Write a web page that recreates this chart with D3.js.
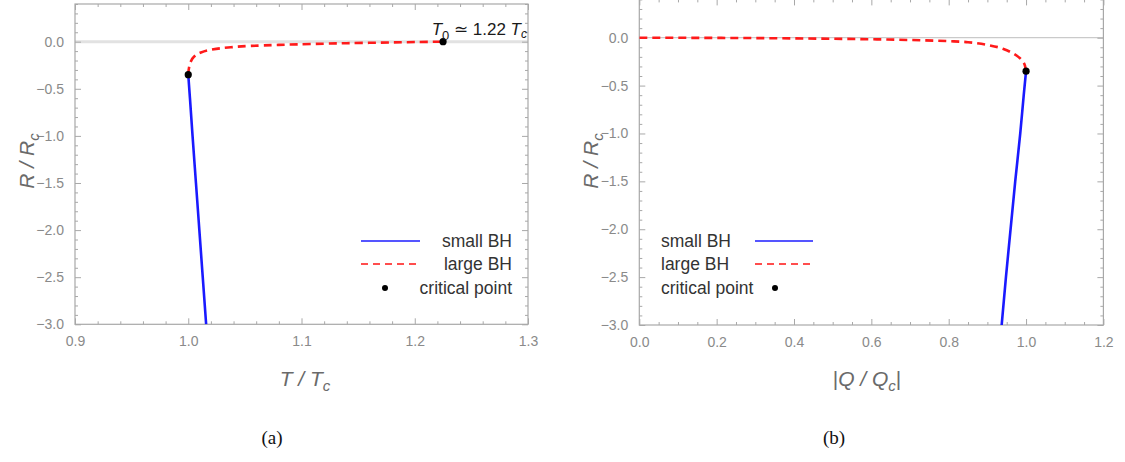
<!DOCTYPE html>
<html><head><meta charset="utf-8">
<script src="https://cdn.jsdelivr.net/npm/d3@7"></script>
<style>
body{margin:0;background:#fff;}
svg{display:block;}
text{font-family:"Liberation Sans",Arial,sans-serif;}
</style></head>
<body><svg id="c" width="1125" height="462"></svg>
<script>
// ---- Data ----
// Panel (a): R/Rc vs T/Tc
const smallT = [1.0, 1.0015, 1.0038, 1.0068, 1.0098, 1.0128, 1.0158];
const smallR_a = [-0.35, -0.6, -1.0, -1.5, -2.0, -2.5, -3.0];
const largeT = [1.0, 1.0005, 1.002, 1.005, 1.01, 1.02, 1.035, 1.055, 1.08, 1.11, 1.14, 1.17, 1.2, 1.225];
const largeR_a = [-0.35, -0.29, -0.22, -0.16, -0.12, -0.085, -0.062, -0.045, -0.034, -0.024, -0.016, -0.01, -0.004, 0.0];
const critA = [[1.0, -0.35], [1.225, 0.0]];
// Panel (b): R/Rc vs |Q/Qc|
const smallQ = [1.0, 0.994, 0.985, 0.972, 0.960, 0.948, 0.937];
const smallR_b = [-0.35, -0.6, -1.0, -1.5, -2.0, -2.5, -3.0];
const largeQ = [0, 0.1, 0.2, 0.3, 0.4, 0.5, 0.6, 0.7, 0.8, 0.85, 0.9, 0.94, 0.96, 0.98, 0.99, 0.997, 1.0];
const largeR_b = [0, -0.001, -0.002, -0.004, -0.007, -0.011, -0.016, -0.024, -0.036, -0.047, -0.075, -0.115, -0.15, -0.2, -0.24, -0.29, -0.35];
const critB = [[1.0, -0.35]];
// Ticks
const yMajor = [0.0, -0.5, -1.0, -1.5, -2.0, -2.5, -3.0];
const xMajorA = [0.9, 1.0, 1.1, 1.2, 1.3];
const xMajorB = [0.0, 0.2, 0.4, 0.6, 0.8, 1.0, 1.2];
const legendLabels = ["small BH", "large BH", "critical point"];

const svg = d3.select("#c");
const fmt = d3.format(".1f");
const frameCol = "#a8a8a8", tickTxt = "#8a8a8a";

function panel(o) {
  const x = d3.scaleLinear().domain(o.xd).range([o.x0, o.x1]);
  const y = d3.scaleLinear().domain([-3, 0.4]).range([o.y1, o.y0]);
  const g = svg.append("g");
  g.append("line").attr("x1", o.x0).attr("x2", o.x1).attr("y1", y(0)).attr("y2", y(0))
    .attr("stroke", o.zeroCol).attr("stroke-width", o.zeroW);
  const yMinor = d3.range(-30, 5).map(d => d / 10).filter(v => !yMajor.some(m => Math.abs(m - v) < 1e-9));
  const xMinor = d3.range(Math.round(o.xd[0] / o.xm), Math.round(o.xd[1] / o.xm) + 1).map(d => +(d * o.xm).toFixed(4))
    .filter(v => !o.xMajor.some(m => Math.abs(m - v) < 1e-9));
  function style(sel) {
    sel.select(".domain").remove();
    sel.selectAll("line").attr("stroke", frameCol);
    sel.selectAll("text").attr("fill", tickTxt).style("font-size", "14px").style("font-family", "'Liberation Sans',Arial,sans-serif");
  }
  g.append("g").attr("transform", `translate(${o.x0},0)`).call(d3.axisLeft(y).tickValues(yMajor).tickSize(-6).tickPadding(11).tickFormat(fmt)).call(style);
  g.append("g").attr("transform", `translate(${o.x0},0)`).call(d3.axisLeft(y).tickValues(yMinor).tickSize(-3).tickFormat("")).call(style);
  g.append("g").attr("transform", `translate(${o.x1},0)`).call(d3.axisRight(y).tickValues(yMajor).tickSize(-6).tickFormat("")).call(style);
  g.append("g").attr("transform", `translate(${o.x1},0)`).call(d3.axisRight(y).tickValues(yMinor).tickSize(-3).tickFormat("")).call(style);
  g.append("g").attr("transform", `translate(0,${o.y1})`).call(d3.axisBottom(x).tickValues(o.xMajor).tickSize(-6).tickPadding(12).tickFormat(fmt)).call(style);
  g.append("g").attr("transform", `translate(0,${o.y1})`).call(d3.axisBottom(x).tickValues(xMinor).tickSize(-3).tickFormat("")).call(style);
  g.append("g").attr("transform", `translate(0,${o.y0})`).call(d3.axisTop(x).tickValues(o.xMajor).tickSize(-6).tickFormat("")).call(style);
  g.append("g").attr("transform", `translate(0,${o.y0})`).call(d3.axisTop(x).tickValues(xMinor).tickSize(-3).tickFormat("")).call(style);
  g.append("rect").attr("x", o.x0).attr("y", o.y0).attr("width", o.x1 - o.x0).attr("height", o.y1 - o.y0)
    .attr("fill", "none").attr("stroke", frameCol).attr("stroke-width", 1.2);
  const clip = "clip" + o.id;
  svg.append("clipPath").attr("id", clip).append("rect").attr("x", o.x0).attr("y", o.y0).attr("width", o.x1 - o.x0).attr("height", o.y1 - o.y0);
  const line = d3.line().x(d => x(d[0])).y(d => y(d[1])).curve(d3.curveMonotoneY);
  const lineX = d3.line().x(d => x(d[0])).y(d => y(d[1])).curve(d3.curveMonotoneX);
  const pc = g.append("g").attr("clip-path", `url(#${clip})`);
  pc.append("path").datum(o.small).attr("d", line).attr("fill", "none").attr("stroke", "#1a1aff").attr("stroke-width", 2.6);
  pc.append("path").datum(o.large).attr("d", o.largeCurve === "Y" ? line : lineX).attr("fill", "none").attr("stroke", "#ff1a1a")
    .attr("stroke-width", 2.6).attr("stroke-dasharray", "8,5");
  pc.selectAll("circle.cp").data(o.crit).join("circle").attr("cx", d => x(d[0])).attr("cy", d => y(d[1])).attr("r", 3.6).attr("fill", "#000");
  return { x, y, g };
}

const A = panel({
  id: "a", x0: 75, x1: 528, y0: 4, y1: 324.3, xd: [0.9, 1.3], xm: 0.02, xMajor: xMajorA,
  zeroCol: "#e2e2e2", zeroW: 3,
  small: smallT.map((t, i) => [t, smallR_a[i]]),
  large: largeT.map((t, i) => [t, largeR_a[i]]), largeCurve: "Y",
  crit: critA
});
const B = panel({
  id: "b", x0: 639.3, x1: 1103.4, y0: -0.6, y1: 325, xd: [0, 1.2], xm: 0.05, xMajor: xMajorB,
  zeroCol: "#bdbdbd", zeroW: 1,
  small: smallQ.map((q, i) => [q, smallR_b[i]]),
  large: largeQ.map((q, i) => [q, largeR_b[i]]), largeCurve: "X",
  crit: critB
});

// Annotation T0
const ann = svg.append("text").attr("x", 527).attr("y", 35).attr("text-anchor", "end")
  .attr("fill", "#1a1a1a").style("font-size", "17px");
ann.append("tspan").style("font-style", "italic").text("T");
ann.append("tspan").attr("dy", 5).style("font-size", "13px").text("0");
ann.append("tspan").attr("dy", -5).text(" \u2243 1.22 ");
ann.append("tspan").style("font-style", "italic").text("T");
ann.append("tspan").attr("dy", 3).style("font-size", "12px").style("font-style", "italic").text("c");

// Axis titles
function rTitle(cx, cy) {
  const t = svg.append("text").attr("transform", `translate(${cx},${cy}) rotate(-90)`).attr("text-anchor", "middle")
    .attr("fill", "#6a6a6a").style("font-size", "21px").style("font-style", "italic");
  t.append("tspan").text("R / R");
  t.append("tspan").attr("dy", 5).style("font-size", "15px").text("c");
}
rTitle(34, 161);
rTitle(598, 161);
function xTitle(cx, cy, pre, a, b, post) {
  const t = svg.append("text").attr("x", cx).attr("y", cy).attr("text-anchor", "middle")
    .attr("fill", "#6a6a6a").style("font-size", "21px");
  t.append("tspan").text(pre);
  t.append("tspan").style("font-style", "italic").text(a + " / " + b);
  t.append("tspan").attr("dy", 5).style("font-size", "15px").style("font-style", "italic").text("c");
  t.append("tspan").attr("dy", -5).text(post);
}
xTitle(305, 386, "", "T", "T", "");
xTitle(867, 386, "|", "Q", "Q", "|");

// Panel captions
svg.append("text").attr("x", 272).attr("y", 444).attr("text-anchor", "middle").style("font-family", "'Liberation Serif','DejaVu Serif',serif").style("font-size", "19px").attr("fill", "#111").text("(a)");
svg.append("text").attr("x", 834).attr("y", 444).attr("text-anchor", "middle").style("font-family", "'Liberation Serif','DejaVu Serif',serif").style("font-size", "19px").attr("fill", "#111").text("(b)");

// Legends
const legY = [241, 264, 288];
function legend(textX, anchor, lineX0, lineX1, dotX) {
  const g = svg.append("g");
  legendLabels.forEach((lab, i) => {
    g.append("text").attr("x", textX).attr("y", legY[i] + 6).attr("text-anchor", anchor)
      .attr("fill", "#333").style("font-size", "17.5px").text(lab);
  });
  g.append("line").attr("x1", lineX0).attr("x2", lineX1).attr("y1", legY[0]).attr("y2", legY[0]).attr("stroke", "#5555ff").attr("stroke-width", 2);
  g.append("line").attr("x1", lineX0).attr("x2", lineX1).attr("y1", legY[1]).attr("y2", legY[1]).attr("stroke", "#ff4d4d").attr("stroke-width", 2).attr("stroke-dasharray", "7,5");
  g.append("circle").attr("cx", dotX).attr("cy", legY[2]).attr("r", 3).attr("fill", "#000");
}
legend(512, "end", 361, 420, 385);
legend(661, "start", 755, 813, 775);
</script></body></html>
